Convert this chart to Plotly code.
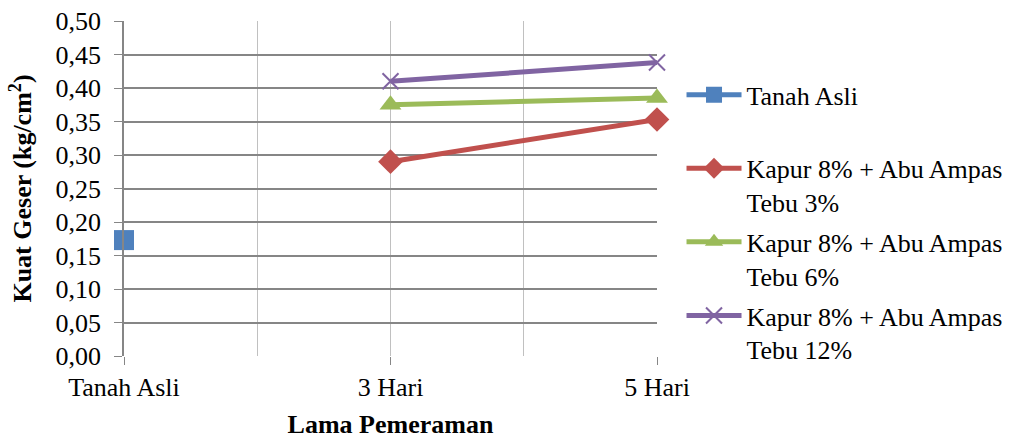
import plotly.graph_objects as go

categories = ["Tanah Asli", "3 Hari", "5 Hari"]
tanah_asli = [0.173, None, None]
tebu3 = [None, 0.290, 0.353]
tebu6 = [None, 0.375, 0.385]
tebu12 = [None, 0.410, 0.438]
y_ticks = [round(i * 0.05, 2) for i in range(11)]
y_ticktext = [f"{v:.2f}".replace(".", ",") for v in y_ticks]

xpos = list(range(len(categories)))
FONT = "Liberation Serif, Times New Roman, serif"
FS = 26

series = [
    ("Tanah Asli<br>\u00a0", tanah_asli, "#4F81BD", "square", 20),
    ("Kapur 8% + Abu Ampas<br>Tebu 3%", tebu3, "#C0504D", "diamond", 19),
    ("Kapur 8% + Abu Ampas<br>Tebu 6%", tebu6, "#9BBB59", "triangle-up", 19),
    ("Kapur 8% + Abu Ampas<br>Tebu 12%", tebu12, "#8064A2", "x-thin-open", 16),
]

fig = go.Figure()
for i, (name, vals, color, sym, size) in enumerate(series):
    marker = dict(symbol=sym, size=size, color=color)
    if sym == "x-thin-open":
        marker["line"] = dict(color=color, width=2)
    fig.add_trace(go.Scatter(
        x=xpos, y=vals, name=name, mode="lines+markers",
        line=dict(color=color, width=5), marker=marker,
        legendgroup=f"g{i}", connectgaps=False, cliponaxis=False,
    ))

fig.update_layout(
    width=1019, height=439,
    margin=dict(l=124, r=360, t=21, b=83),
    paper_bgcolor="white", plot_bgcolor="white",
    font=dict(family=FONT, size=FS, color="black"),
    showlegend=True,
    legend=dict(x=1.046, y=0.85, xanchor="left", yanchor="top",
                valign="top", tracegroupgap=3, itemwidth=55,
                font=dict(size=FS, family=FONT)),
    xaxis=dict(
        range=[0, 2], tickvals=xpos, ticktext=categories,
        showgrid=True, gridcolor="#C0C0C0", gridwidth=1,
        minor=dict(tickvals=[0.5, 1.5], showgrid=True, gridcolor="#C0C0C0", ticklen=0),
        ticks="outside", ticklen=8, tickcolor="#868686",
        showline=False, zeroline=False, automargin=False,
        title=dict(text="<b>Lama Pemeraman</b>", standoff=14, font=dict(size=FS)),
    ),
    yaxis=dict(
        range=[0, 0.5], tickvals=y_ticks, ticktext=y_ticktext,
        showgrid=True, gridcolor="#868686", gridwidth=1.5,
        ticks="outside", ticklen=8, tickcolor="#868686",
        showline=True, linecolor="#868686", linewidth=1.5,
        zeroline=False, automargin=False, ticklabelstandoff=8,
        title=dict(text="<b>Kuat Geser (kg/cm<sup>2</sup>)</b>", standoff=16, font=dict(size=FS)),
    ),
)

fig.write_html("out.html", config={"displayModeBar": False},
               post_script="document.body.style.margin='0';")
